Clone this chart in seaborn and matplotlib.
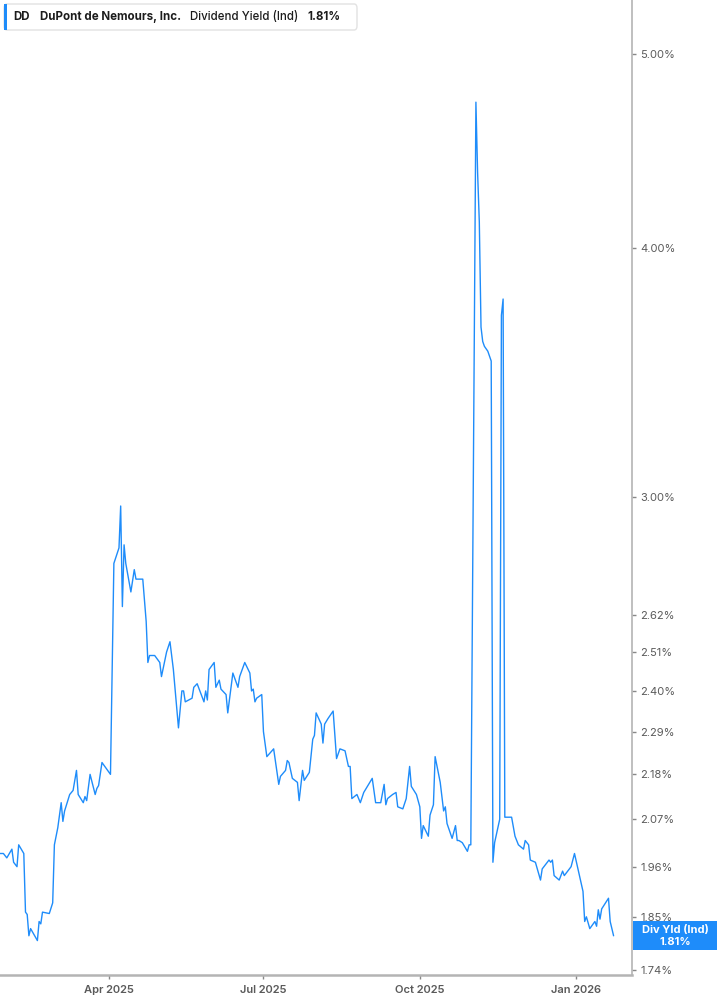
import matplotlib
matplotlib.use("Agg")
import matplotlib.pyplot as plt
import matplotlib.ticker as mticker
from matplotlib.patches import FancyBboxPatch, Rectangle
import pandas as pd
import seaborn as sns

# ---------------- data ----------------
dates = [
    "2025-01-27", "2025-01-29", "2025-01-31", "2025-02-03", "2025-02-04", "2025-02-06",
    "2025-02-07", "2025-02-10", "2025-02-11", "2025-02-12", "2025-02-13", "2025-02-14",
    "2025-02-18", "2025-02-19", "2025-02-20", "2025-02-21", "2025-02-25", "2025-02-27",
    "2025-02-28", "2025-03-02", "2025-03-04", "2025-03-05", "2025-03-06", "2025-03-09",
    "2025-03-11", "2025-03-13", "2025-03-14", "2025-03-17", "2025-03-18", "2025-03-19",
    "2025-03-21", "2025-03-24", "2025-03-25", "2025-03-26", "2025-03-28", "2025-04-02",
    "2025-04-04", "2025-04-07", "2025-04-08", "2025-04-09", "2025-04-10", "2025-04-11",
    "2025-04-14", "2025-04-16", "2025-04-17", "2025-04-21", "2025-04-23", "2025-04-24",
    "2025-04-25", "2025-04-28", "2025-05-01", "2025-05-02", "2025-05-05", "2025-05-07",
    "2025-05-09", "2025-05-12", "2025-05-14", "2025-05-15", "2025-05-16", "2025-05-20",
    "2025-05-21", "2025-05-23", "2025-05-27", "2025-05-28", "2025-05-29", "2025-05-30",
    "2025-06-02", "2025-06-03", "2025-06-05", "2025-06-06", "2025-06-09", "2025-06-10",
    "2025-06-13", "2025-06-16", "2025-06-17", "2025-06-20", "2025-06-23", "2025-06-24",
    "2025-06-25", "2025-06-26", "2025-06-27", "2025-06-30", "2025-07-01", "2025-07-03",
    "2025-07-07", "2025-07-10", "2025-07-11", "2025-07-14", "2025-07-15", "2025-07-16",
    "2025-07-18", "2025-07-21", "2025-07-22", "2025-07-24", "2025-07-25", "2025-07-28",
    "2025-07-30", "2025-07-31", "2025-08-01", "2025-08-04", "2025-08-05", "2025-08-06",
    "2025-08-08", "2025-08-11", "2025-08-13", "2025-08-15", "2025-08-18", "2025-08-20",
    "2025-08-21", "2025-08-22", "2025-08-25", "2025-08-27", "2025-08-29", "2025-09-03",
    "2025-09-05", "2025-09-08", "2025-09-10", "2025-09-11", "2025-09-12", "2025-09-15",
    "2025-09-17", "2025-09-18", "2025-09-21", "2025-09-23", "2025-09-25", "2025-09-26",
    "2025-09-29", "2025-10-01", "2025-10-02", "2025-10-03", "2025-10-06", "2025-10-07",
    "2025-10-09", "2025-10-10", "2025-10-13", "2025-10-15", "2025-10-16", "2025-10-17",
    "2025-10-20", "2025-10-22", "2025-10-23", "2025-10-24", "2025-10-26", "2025-10-29",
    "2025-10-30", "2025-10-31", "2025-11-03", "2025-11-04", "2025-11-05", "2025-11-06",
    "2025-11-07", "2025-11-08", "2025-11-10", "2025-11-11", "2025-11-12", "2025-11-13",
    "2025-11-14", "2025-11-17", "2025-11-18", "2025-11-19", "2025-11-20", "2025-11-24",
    "2025-11-26", "2025-11-28", "2025-12-01", "2025-12-02", "2025-12-04", "2025-12-05",
    "2025-12-08", "2025-12-11", "2025-12-12", "2025-12-16", "2025-12-17", "2025-12-18",
    "2025-12-19", "2025-12-22", "2025-12-24", "2025-12-25", "2025-12-29", "2025-12-31",
    "2026-01-05", "2026-01-06", "2026-01-07", "2026-01-09", "2026-01-12", "2026-01-13",
    "2026-01-14", "2026-01-15", "2026-01-16", "2026-01-20", "2026-01-21", "2026-01-23",
]
yield_pct = [
    1.99, 1.99, 1.98, 2.00, 1.97, 1.96,
    2.01, 1.99, 1.86, 1.855, 1.81, 1.825,
    1.80, 1.84, 1.835, 1.86, 1.857, 1.88,
    2.01, 2.05, 2.11, 2.065, 2.09, 2.13,
    2.14, 2.19, 2.13, 2.11, 2.125, 2.115,
    2.18, 2.13, 2.145, 2.152, 2.21, 2.18,
    2.78, 2.83, 2.97, 2.645, 2.84, 2.78,
    2.69, 2.76, 2.73, 2.73, 2.60, 2.48,
    2.50, 2.50, 2.48, 2.44, 2.51, 2.54,
    2.46, 2.30, 2.40, 2.40, 2.37, 2.38,
    2.41, 2.42, 2.37, 2.40, 2.375, 2.46,
    2.48, 2.41, 2.43, 2.405, 2.39, 2.34,
    2.45, 2.41, 2.44, 2.48, 2.45, 2.40,
    2.405, 2.37, 2.38, 2.39, 2.29, 2.225,
    2.245, 2.155, 2.175, 2.19, 2.215, 2.21,
    2.17, 2.16, 2.115, 2.19, 2.165, 2.185,
    2.27, 2.28, 2.34, 2.31, 2.26, 2.31,
    2.325, 2.345, 2.22, 2.245, 2.24, 2.20,
    2.20, 2.12, 2.13, 2.11, 2.135, 2.17,
    2.11, 2.11, 2.155, 2.105, 2.12, 2.13,
    2.135, 2.10, 2.095, 2.12, 2.20, 2.15,
    2.13, 2.10, 2.025, 2.055, 2.03, 2.08,
    2.105, 2.225, 2.16, 2.09, 2.10, 2.06,
    2.025, 2.055, 2.02, 2.02, 2.015, 1.995,
    2.01, 2.01, 4.73, 4.36, 4.12, 3.65,
    3.59, 3.57, 3.55, 3.53, 3.51, 1.97,
    2.015, 2.07, 3.70, 3.77, 2.075, 2.075,
    2.03, 2.01, 2.00, 2.02, 2.01, 1.975,
    1.97, 1.93, 1.955, 1.975, 1.97, 1.975,
    1.94, 1.93, 1.95, 1.94, 1.96, 1.99,
    1.905, 1.84, 1.85, 1.825, 1.84, 1.83,
    1.865, 1.845, 1.867, 1.89, 1.84, 1.81,
]
ytick_values = [1.74, 1.85, 1.96, 2.07, 2.18, 2.29, 2.40, 2.51, 2.62, 3.00, 4.00, 5.00]
xtick_dates = ["2025-04-01", "2025-07-01", "2025-10-01", "2026-01-01"]
xtick_labels = ["Apr 2025", "Jul 2025", "Oct 2025", "Jan 2026"]
ticker_symbol = "DD"
company_name = "DuPont de Nemours, Inc."
metric_name = "Dividend Yield (Ind)"
last_value = 1.81
badge_title = "Div Yld (Ind)"

# ---------------- style ----------------
LINE = "#1e8cfa"
GRAY_AXIS = "#b4b4b4"
GRAY_TEXT = "#5a5a5a"
DARK_TEXT = "#1c1c1c"

sns.set_theme(style="white")
plt.rcParams["font.family"] = ["Inter", "DejaVu Sans"]

W, H = 717, 1005
fig = plt.figure(figsize=(W / 100, H / 100), dpi=100)
ax = fig.add_axes([0, 30 / H, 632 / W, 975 / H])

df = pd.DataFrame({"date": pd.to_datetime(dates), "yield": yield_pct})
sns.lineplot(data=df, x="date", y="yield", ax=ax, color=LINE, linewidth=1.0,
             estimator=None, sort=False)

ax.set_yscale("log")
ax.set_ylim(1.730, 5.321)
ax.set_xlim(pd.Timestamp("2025-01-27"), pd.Timestamp("2026-02-02 20:00"))

ax.yaxis.tick_right()
ax.yaxis.set_major_locator(mticker.FixedLocator(ytick_values))
ax.yaxis.set_major_formatter(mticker.FuncFormatter(lambda v, p: f"{v:.2f}%"))
ax.yaxis.set_minor_locator(mticker.NullLocator())
ax.yaxis.set_minor_formatter(mticker.NullFormatter())

ax.set_xticks(pd.to_datetime(xtick_dates))
ax.set_xticklabels(xtick_labels)
ax.xaxis.set_minor_locator(mticker.NullLocator())

ax.set_xlabel("")
ax.set_ylabel("")
ax.grid(False)

for s in ["top", "left"]:
    ax.spines[s].set_visible(False)
ax.spines["right"].set_color(GRAY_AXIS)
ax.spines["right"].set_linewidth(1.2)
ax.spines["bottom"].set_color(GRAY_AXIS)
ax.spines["bottom"].set_linewidth(1.8)

ax.tick_params(axis="y", which="major", right=True, left=False, length=3,
               width=1, color="#888888", pad=3, labelsize=8, labelcolor=GRAY_TEXT)
ax.tick_params(axis="x", which="major", bottom=True, length=3, width=1,
               color="#888888", pad=4, labelsize=8, labelcolor=GRAY_TEXT)
for lab in ax.get_xticklabels():
    lab.set_fontweight("semibold")

# ---------------- header box ----------------
hb = FancyBboxPatch((4 / W, 1 - 30 / H), 353 / W, 26 / H,
                    boxstyle="round,pad=0,rounding_size=0.004",
                    transform=fig.transFigure, fc="white", ec="#e2e2e2", lw=1,
                    zorder=5)
fig.patches.append(hb)
fig.patches.append(Rectangle((4 / W, 1 - 30 / H), 3 / W, 26 / H,
                             transform=fig.transFigure, fc=LINE, ec="none",
                             zorder=6))
ty = 1 - 17 / H
HFS = 8.3
fig.text(13 / W, ty, ticker_symbol, fontsize=HFS, fontweight="bold",
         color=DARK_TEXT, va="center", ha="left", zorder=7)
fig.text(40 / W, ty, company_name, fontsize=HFS, fontweight="bold",
         color=DARK_TEXT, va="center", ha="left", zorder=7)
fig.text(190 / W, ty, metric_name, fontsize=HFS, fontweight="medium",
         color=DARK_TEXT, va="center", ha="left", zorder=7)
fig.text(307 / W, ty, f"{last_value:.2f}%", fontsize=HFS, fontweight="bold",
         color=DARK_TEXT, va="center", ha="left", zorder=7)

# ---------------- last value badge ----------------
fig.patches.append(Rectangle((633 / W, 1 - 950 / H), 84 / W, 29 / H,
                             transform=fig.transFigure, fc=LINE, ec="none",
                             zorder=10))
fig.text(675 / W, 1 - 930 / H, badge_title, fontsize=8, fontweight="bold",
         color="white", ha="center", va="center", zorder=11)
fig.text(675 / W, 1 - 942 / H, f"{last_value:.2f}%", fontsize=8,
         fontweight="bold", color="white", ha="center", va="center", zorder=11)

fig.savefig("out.png", dpi=100)
